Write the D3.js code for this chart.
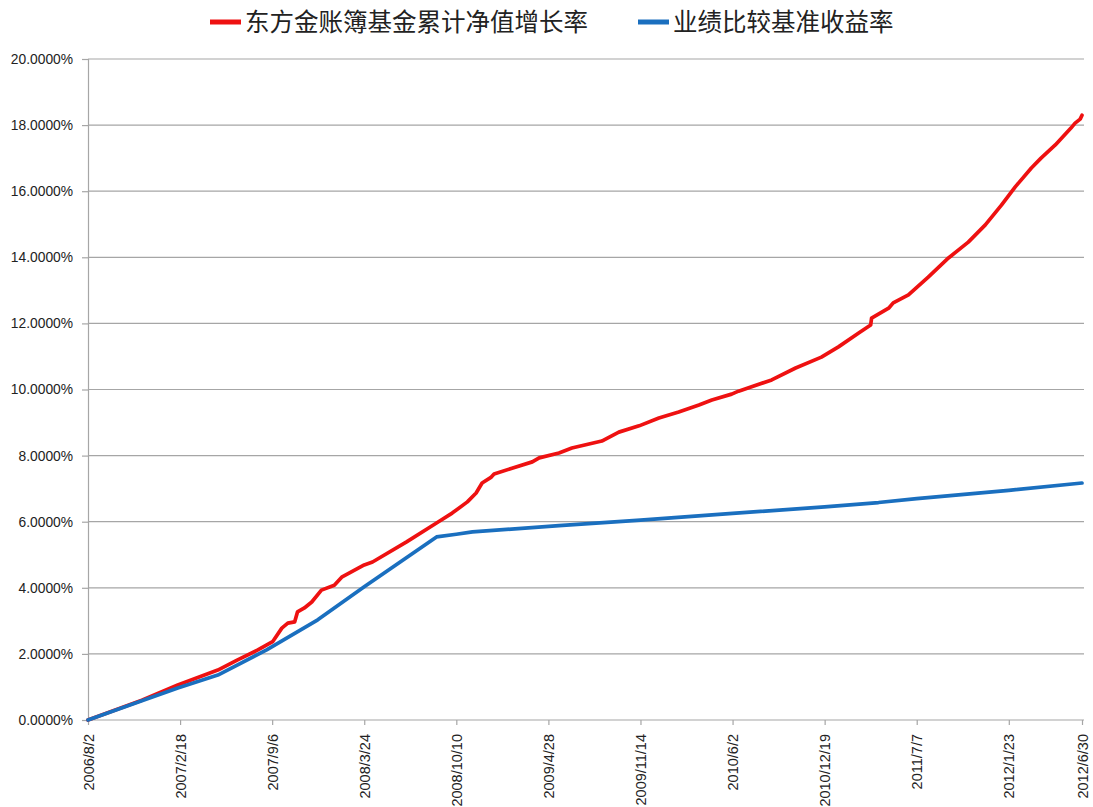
<!DOCTYPE html>
<html>
<head>
<meta charset="utf-8">
<script src="https://cdn.jsdelivr.net/npm/d3@7"></script>
<style>
  body { margin: 0; background: #fff; }
  text { font-family: "Liberation Sans", "DejaVu Sans", sans-serif; }
  .legend text { font-family: "Noto Sans CJK SC", sans-serif; }
</style>
</head>
<body>
<div id="chart-area"></div>
<script>
const WIDTH = 1093;
const HEIGHT = 807;
const MARGIN = { top: 59, right: 9, bottom: 87, left: 88 };

const SERIES_NAMES = ['东方金账簿基金累计净值增长率', '业绩比较基准收益率'];
const TICK_DATES = ['2006/8/2', '2007/2/18', '2007/9/6', '2008/3/24', '2008/10/10', '2009/4/28',
  '2009/11/14', '2010/6/2', '2010/12/19', '2011/7/7', '2012/1/23', '2012/6/30'];
const Y_TICKS = [0, 2, 4, 6, 8, 10, 12, 14, 16, 18, 20];

// fund cumulative NAV growth (%)
const FUND_DATES = ['2006/8/2', '2006/11/27', '2007/2/13', '2007/5/11', '2007/6/23', '2007/8/6',
  '2007/9/7', '2007/9/27', '2007/10/10', '2007/10/25', '2007/10/31', '2007/11/15', '2007/12/1',
  '2007/12/22', '2008/1/19', '2008/2/4', '2008/3/24', '2008/4/11', '2008/6/24', '2008/8/28',
  '2008/10/1', '2008/11/3', '2008/11/22', '2008/12/5', '2008/12/25', '2008/12/31', '2009/2/8',
  '2009/3/24', '2009/4/8', '2009/5/21', '2009/6/18', '2009/8/22', '2009/9/28', '2009/11/11',
  '2009/12/24', '2010/2/5', '2010/3/21', '2010/4/18', '2010/5/31', '2010/6/15', '2010/8/26',
  '2010/10/17', '2010/12/12', '2011/1/18', '2011/3/3', '2011/3/29', '2011/3/31', '2011/5/7',
  '2011/5/17', '2011/6/19', '2011/8/1', '2011/9/14', '2011/10/27', '2011/12/3', '2012/1/7',
  '2012/2/6', '2012/3/12', '2012/4/2', '2012/5/3', '2012/6/6', '2012/6/15', '2012/6/26', '2012/6/30'];
const FUND_VALUES = [0, 0.60, 1.06, 1.51, 1.82, 2.12,
  2.37, 2.78, 2.93, 2.97, 3.27, 3.39, 3.57,
  3.93, 4.08, 4.32, 4.69, 4.78, 5.39, 5.96,
  6.26, 6.60, 6.87, 7.17, 7.35, 7.44, 7.62,
  7.81, 7.93, 8.08, 8.23, 8.44, 8.71, 8.90,
  9.14, 9.32, 9.53, 9.68, 9.86, 9.95, 10.29,
  10.65, 10.98, 11.29, 11.71, 11.95, 12.16, 12.46,
  12.62, 12.86, 13.40, 13.98, 14.46, 14.98, 15.58,
  16.13, 16.70, 17.00, 17.40, 17.91, 18.06, 18.18, 18.30];

// benchmark return (%)
const BENCH_DATES = ['2006/8/2', '2006/11/27', '2007/2/13', '2007/5/11', '2007/8/25', '2007/12/14',
  '2008/3/24', '2008/8/28', '2008/10/10', '2008/11/14', '2009/5/21', '2009/11/14', '2010/6/2',
  '2010/12/19', '2011/4/15', '2011/7/7', '2012/1/23', '2012/6/30'];
const BENCH_VALUES = [0, 0.58, 0.97, 1.36, 2.12, 3.03,
  4.03, 5.54, 5.62, 5.69, 5.88, 6.05, 6.25,
  6.45, 6.58, 6.70, 6.95, 7.17];

const COLORS = ['#ee1111', '#1a6fbf'];

main();

function main() {
  const parse = d3.timeParse('%Y/%-m/%-d');
  const fund = FUND_DATES.map((d, i) => ({ date: parse(d), value: FUND_VALUES[i] }));
  const bench = BENCH_DATES.map((d, i) => ({ date: parse(d), value: BENCH_VALUES[i] }));
  const svg = prepareGraph();
  showGraph(svg, [fund, bench], parse);
}

function prepareGraph() {
  return d3.select('#chart-area').append('svg')
    .attr('width', WIDTH)
    .attr('height', HEIGHT);
}

function showGraph(svg, series, parse) {
  const innerW = WIDTH - MARGIN.left - MARGIN.right;
  const innerH = HEIGHT - MARGIN.top - MARGIN.bottom;
  const ticks = TICK_DATES.map(parse);

  const scaleX = d3.scaleTime()
    .domain([ticks[0], ticks[ticks.length - 1]])
    .range([0, innerW - 2]);
  const scaleY = d3.scaleLinear()
    .domain([0, 20])
    .range([innerH, 0]);

  const g = svg.append('g')
    .attr('transform', `translate(${ MARGIN.left }, ${ MARGIN.top })`);

  // horizontal gridlines
  g.append('g')
    .selectAll('line')
    .data(Y_TICKS)
    .enter()
    .append('line')
    .attr('x1', 0)
    .attr('x2', innerW)
    .attr('y1', d => scaleY(d))
    .attr('y2', d => scaleY(d))
    .attr('stroke', '#a6a6a6')
    .attr('stroke-width', 1.2);

  const axisLeftCall = d3.axisLeft(scaleY)
    .tickValues(Y_TICKS)
    .tickSize(6)
    .tickPadding(9)
    .tickFormat(d => `${ d.toFixed(4) }%`);
  const yAxis = g.append('g')
    .attr('class', 'y-scale')
    .call(axisLeftCall);
  yAxis.select('.domain').attr('stroke', '#a6a6a6').attr('stroke-width', 1.2);
  yAxis.selectAll('.tick line').attr('stroke', '#a6a6a6').attr('stroke-width', 1.2);
  yAxis.selectAll('.tick text')
    .attr('fill', '#222')
    .style('font-size', '13.8px');

  const axisBottomCall = d3.axisBottom(scaleX)
    .tickValues(ticks)
    .tickSize(5)
    .tickSizeOuter(0)
    .tickFormat(d3.timeFormat('%Y/%-m/%-d'));
  const xAxis = g.append('g')
    .attr('class', 'x-scale')
    .attr('transform', `translate(0, ${ innerH })`)
    .call(axisBottomCall);
  xAxis.select('.domain').remove();
  xAxis.selectAll('.tick line').attr('stroke', '#a6a6a6').attr('stroke-width', 1.2);
  xAxis.selectAll('.tick text')
    .attr('fill', '#222')
    .style('font-size', '14.5px')
    .attr('text-anchor', 'end')
    .attr('dy', '0.35em')
    .attr('transform', 'rotate(-90)')
    .attr('x', -14)
    .attr('y', 0);

  const line = d3.line()
    .x(d => scaleX(d.date))
    .y(d => scaleY(d.value));

  g.selectAll('path.series')
    .data(series)
    .enter()
    .append('path')
    .attr('class', 'series')
    .attr('d', line)
    .attr('fill', 'none')
    .attr('stroke', (d, i) => COLORS[i])
    .attr('stroke-width', 3.7)
    .attr('stroke-linejoin', 'round')
    .attr('stroke-linecap', 'round');

  // legend
  const legendX = [210, 638];
  const legend = svg.append('g').attr('class', 'legend');
  SERIES_NAMES.forEach((name, i) => {
    legend.append('line')
      .attr('x1', legendX[i])
      .attr('x2', legendX[i] + 31)
      .attr('y1', 22)
      .attr('y2', 22)
      .attr('stroke', COLORS[i])
      .attr('stroke-width', 5);
    legend.append('text')
      .attr('x', legendX[i] + 35)
      .attr('y', 22)
      .attr('dy', '0.35em')
      .attr('fill', '#222')
      .style('font-size', '24.5px')
      .text(name);
  });
}
</script>
</body>
</html>
